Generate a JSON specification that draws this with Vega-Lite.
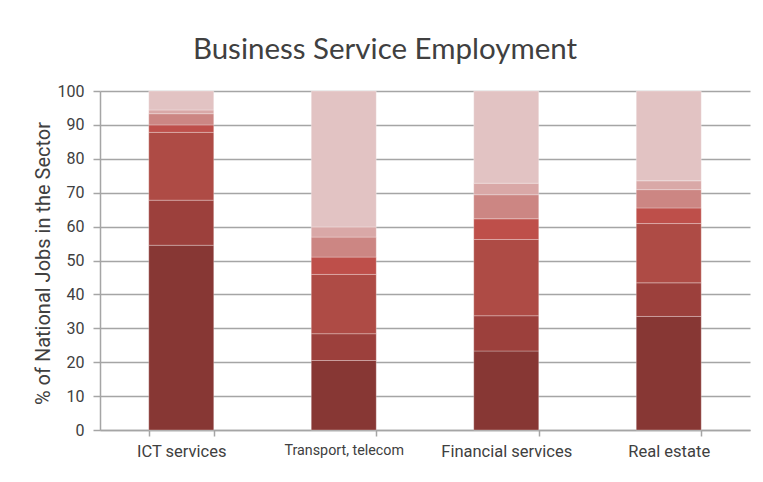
{
  "$schema": "https://vega.github.io/schema/vega-lite/v6.json",
  "autosize": {"type": "none"},
  "width": 650,
  "height": 339,
  "padding": {"left": 100, "top": 91, "right": 13, "bottom": 52},
  "background": "white",
  "title": {
    "text": "Business Service Employment",
    "font": "Lato",
    "fontSize": 29.5,
    "fontWeight": "normal",
    "color": "#404040",
    "anchor": "middle",
    "dx": -40,
    "offset": 18
  },
  "data": {
    "values": [
      {"sector": "ICT services", "group": 1, "share": 54.5},
      {"sector": "ICT services", "group": 2, "share": 13.3},
      {"sector": "ICT services", "group": 3, "share": 20.0},
      {"sector": "ICT services", "group": 4, "share": 2.2},
      {"sector": "ICT services", "group": 5, "share": 3.3},
      {"sector": "ICT services", "group": 6, "share": 1.1},
      {"sector": "ICT services", "group": 7, "share": 5.6},
      {"sector": "Transport, telecom", "group": 1, "share": 20.5},
      {"sector": "Transport, telecom", "group": 2, "share": 7.9},
      {"sector": "Transport, telecom", "group": 3, "share": 17.5},
      {"sector": "Transport, telecom", "group": 4, "share": 5.1},
      {"sector": "Transport, telecom", "group": 5, "share": 5.9},
      {"sector": "Transport, telecom", "group": 6, "share": 3.0},
      {"sector": "Transport, telecom", "group": 7, "share": 40.1},
      {"sector": "Financial services", "group": 1, "share": 23.3},
      {"sector": "Financial services", "group": 2, "share": 10.4},
      {"sector": "Financial services", "group": 3, "share": 22.5},
      {"sector": "Financial services", "group": 4, "share": 6.1},
      {"sector": "Financial services", "group": 5, "share": 7.1},
      {"sector": "Financial services", "group": 6, "share": 3.4},
      {"sector": "Financial services", "group": 7, "share": 27.2},
      {"sector": "Real estate", "group": 1, "share": 33.5},
      {"sector": "Real estate", "group": 2, "share": 9.9},
      {"sector": "Real estate", "group": 3, "share": 17.5},
      {"sector": "Real estate", "group": 4, "share": 4.6},
      {"sector": "Real estate", "group": 5, "share": 5.4},
      {"sector": "Real estate", "group": 6, "share": 2.6},
      {"sector": "Real estate", "group": 7, "share": 26.5}
    ]
  },
  "mark": {"type": "bar", "stroke": "#ffffff", "strokeWidth": 0.8, "strokeOpacity": 0.35},
  "encoding": {
    "x": {
      "field": "sector",
      "type": "nominal",
      "sort": ["ICT services", "Transport, telecom", "Financial services", "Real estate"],
      "scale": {"paddingInner": 0.6, "paddingOuter": 0.3},
      "axis": {
        "title": null,
        "labelAngle": 0,
        "labelFont": "Roboto",
        "labelFontSize": {"condition": {"test": "datum.value == 'Transport, telecom'", "value": 14.3}, "value": 16.5},
        "labelColor": "#404040",
        "labelPadding": 7,
        "tickBand": "extent",
        "tickSize": 6,
        "tickColor": "#a5a5a5",
        "tickWidth": 1.5,
        "domainColor": "#a5a5a5",
        "domainWidth": 1.5,
        "grid": false
      }
    },
    "y": {
      "field": "share",
      "type": "quantitative",
      "stack": "zero",
      "scale": {"domain": [0, 100], "nice": false},
      "axis": {
        "title": "% of National Jobs in the Sector",
        "titleFont": "Roboto",
        "titleFontSize": 20,
        "titleFontWeight": "normal",
        "titleColor": "#404040",
        "titleX": -57,
        "titleY": 172,
        "titleAlign": "center",
        "titleBaseline": "middle",
        "titleAngle": -90,
        "values": [0, 10, 20, 30, 40, 50, 60, 70, 80, 90, 100],
        "labelFont": "Roboto",
        "labelFontSize": 16,
        "labelColor": "#404040",
        "labelPadding": 9,
        "tickSize": 7,
        "tickColor": "#a5a5a5",
        "tickWidth": 1.5,
        "domainColor": "#a5a5a5",
        "domainWidth": 1.5,
        "grid": true,
        "gridColor": "#a5a5a5",
        "gridWidth": 1.5
      }
    },
    "color": {
      "field": "group",
      "type": "ordinal",
      "scale": {
        "domain": [1, 2, 3, 4, 5, 6, 7],
        "range": ["#873734", "#9c403c", "#ae4b45", "#be4f4a", "#cc8683", "#d9a8a7", "#e2c3c3"]
      },
      "legend": null
    },
    "order": {"field": "group", "type": "ordinal", "sort": "ascending"}
  },
  "config": {"view": {"stroke": null}}
}
